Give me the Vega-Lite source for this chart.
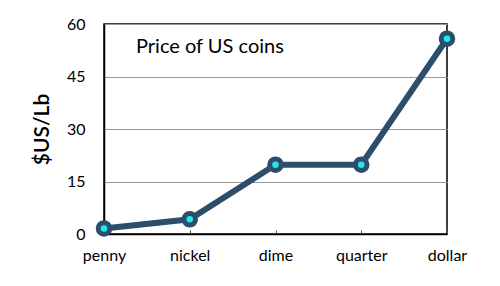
{
  "$schema": "https://vega.github.io/schema/vega-lite/v6.json",
  "autosize": "none",
  "width": 343,
  "height": 210,
  "padding": {"left": 104, "top": 24, "right": 53, "bottom": 52},
  "background": "white",
  "title": {
    "text": "Price of US coins",
    "anchor": "start",
    "frame": "group",
    "orient": "top",
    "offset": -41,
    "dx": 32,
    "font": "Lato",
    "fontSize": 20,
    "fontWeight": "normal",
    "color": "black"
  },
  "data": {
    "values": [
      {"coin": "penny", "price": 1.6},
      {"coin": "nickel", "price": 4.2},
      {"coin": "dime", "price": 19.8},
      {"coin": "quarter", "price": 19.8},
      {"coin": "dollar", "price": 55.8}
    ]
  },
  "config": {
    "view": {"stroke": "black", "strokeWidth": 1.5},
    "axis": {"labelFont": "Lato", "titleFont": "Lato", "labelColor": "black", "titleColor": "black", "domainColor": "black", "domainWidth": 1.5}
  },
  "encoding": {
    "x": {
      "field": "coin",
      "type": "ordinal",
      "scale": {"type": "point", "padding": 0},
      "sort": null,
      "axis": {"title": null, "labelAngle": 0, "labelFontSize": 16, "labelPadding": 17, "tickSize": -4, "tickColor": "#555", "grid": false}
    },
    "y": {
      "field": "price",
      "type": "quantitative",
      "scale": {"domain": [0, 60], "nice": false},
      "axis": {"title": "$US/Lb", "values": [0, 15, 30, 45, 60], "labelFontSize": 16, "labelPadding": 19, "ticks": false, "titleFontSize": 21, "titleFontWeight": 600, "titlePadding": 14, "gridColor": "#999", "gridWidth": 1}
    }
  },
  "layer": [
    {"mark": {"type": "line", "color": "#2d4e6b", "strokeWidth": 6}},
    {"mark": {"type": "point", "shape": "circle", "filled": false, "fill": "#1ee8f2", "fillOpacity": 1, "stroke": "#2d4e6b", "strokeWidth": 5, "size": 133, "opacity": 1}}
  ]
}
